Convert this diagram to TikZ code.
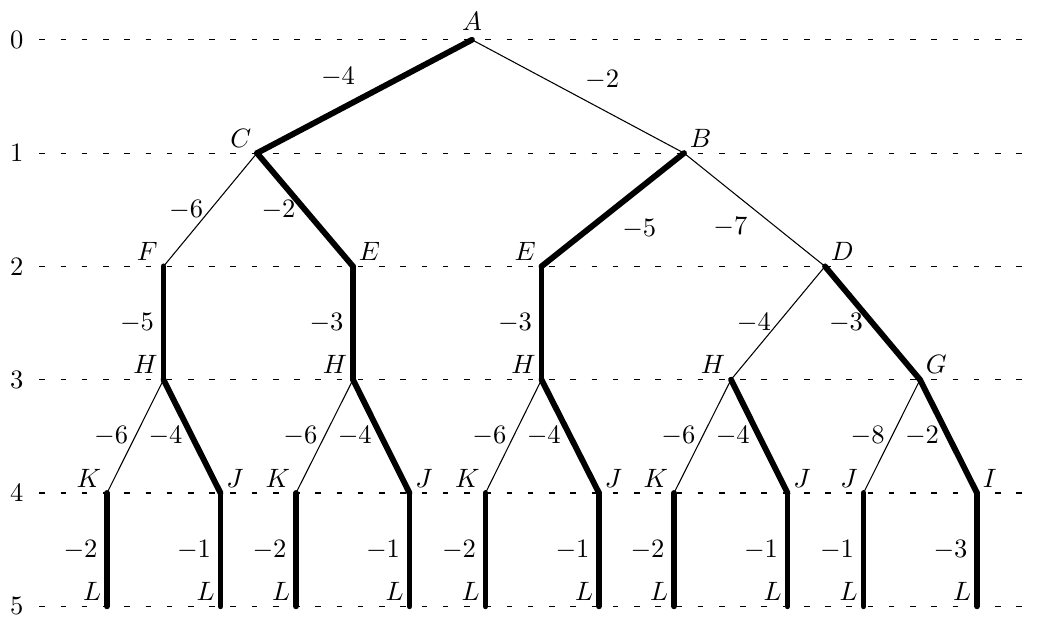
\documentclass[tikz,border=0pt]{standalone}
\begin{document}
\begin{tikzpicture}[x=0.37665pt, y=-0.37665pt,
  lvl/.style={dash pattern=on 2.1pt off 5.9pt, line width=0.4pt},
  thinedge/.style={line width=0.4pt},
  heavy/.style={line width=2.2pt, line cap=round},
  every node/.style={inner sep=2.5pt},
  nm/.style={inner sep=2pt}]
\useasboundingbox (0,0) rectangle (1038,617);
% levels
\foreach \k in {0,...,5} {
  \coordinate (s\k) at (39.3, 39.8+113.3*\k);
  \coordinate (e\k) at (1027, 39.8+113.3*\k);
  \draw[lvl] (s\k) -- (e\k);
  \node (n\k) at (16.7, 39.8+113.3*\k) {\k};
}
% tree nodes
\coordinate (A) at (472, 39.8);
\coordinate (C) at (257, 153.1);
\coordinate (B) at (684, 153.1);
\coordinate (F) at (163.5, 266.4);
\coordinate (E1) at (353, 266.4);
\coordinate (E2) at (541.5, 266.4);
\coordinate (D) at (825, 266.4);
\coordinate (H1) at (163.5, 379.7);
\coordinate (H2) at (353, 379.7);
\coordinate (H3) at (541.5, 379.7);
\coordinate (H4) at (731, 379.7);
\coordinate (G) at (920, 379.7);
\coordinate (K1) at (107, 493);
\coordinate (J1) at (220.5, 493);
\coordinate (K2) at (296, 493);
\coordinate (J2) at (409.5, 493);
\coordinate (K3) at (485.5, 493);
\coordinate (J3) at (599, 493);
\coordinate (K4) at (674, 493);
\coordinate (J4) at (787.5, 493);
\coordinate (J5) at (863.5, 493);
\coordinate (I) at (977, 493);
\foreach \n/\x in {1/107,2/220.5,3/296,4/409.5,5/485.5,6/599,7/674,8/787.5,9/863.5,10/977}
  \coordinate (L\n) at (\x, 606.3);
% edges
\draw[heavy] (A) -- node[above left] {$-4$} (C);
\draw[thinedge] (A) -- node[above right] {$-2$} (B);
\draw[thinedge] (C) -- node[left] {$-6$} (F);
\draw[heavy] (C) -- node[left] {$-2$} (E1);
\draw[heavy] (B) -- node[below right] {$-5$} (E2);
\draw[thinedge] (B) -- node[below left] {$-7$} (D);
\draw[heavy] (F) -- node[left] {$-5$} (H1);
\draw[heavy] (E1) -- node[left] {$-3$} (H2);
\draw[heavy] (E2) -- node[left] {$-3$} (H3);
\draw[thinedge] (D) -- node[left] {$-4$} (H4);
\draw[heavy] (D) -- node[left] {$-3$} (G);
\draw[thinedge] (H1) -- node[left] {$-6$} (K1);
\draw[heavy] (H1) -- node[left] {$-4$} (J1);
\draw[thinedge] (H2) -- node[left] {$-6$} (K2);
\draw[heavy] (H2) -- node[left] {$-4$} (J2);
\draw[thinedge] (H3) -- node[left] {$-6$} (K3);
\draw[heavy] (H3) -- node[left] {$-4$} (J3);
\draw[thinedge] (H4) -- node[left] {$-6$} (K4);
\draw[heavy] (H4) -- node[left] {$-4$} (J4);
\draw[thinedge] (G) -- node[left] {$-8$} (J5);
\draw[heavy] (G) -- node[left] {$-2$} (I);
\draw[heavy] (K1) -- node[left] {$-2$} (L1);
\draw[heavy] (J1) -- node[left] {$-1$} (L2);
\draw[heavy] (K2) -- node[left] {$-2$} (L3);
\draw[heavy] (J2) -- node[left] {$-1$} (L4);
\draw[heavy] (K3) -- node[left] {$-2$} (L5);
\draw[heavy] (J3) -- node[left] {$-1$} (L6);
\draw[heavy] (K4) -- node[left] {$-2$} (L7);
\draw[heavy] (J4) -- node[left] {$-1$} (L8);
\draw[heavy] (J5) -- node[left] {$-1$} (L9);
\draw[heavy] (I) -- node[left] {$-3$} (L10);
% node names
\node[above, inner sep=3.33pt] (tA) at (A) {$A$};
\node[nm, above left] (tC) at (C) {$C$};
\node[nm, above right] (tB) at (B) {$B$};
\node[nm, above left] (tF) at (F) {$F$};
\node[nm, above right] (tE1) at (E1) {$E$};
\node[nm, above left] (tE2) at (E2) {$E$};
\node[nm, above right] (tD) at (D) {$D$};
\node[nm, above left] (tH1) at (H1) {$H$};
\node[nm, above left] (tH2) at (H2) {$H$};
\node[nm, above left] (tH3) at (H3) {$H$};
\node[nm, above left] (tH4) at (H4) {$H$};
\node[nm, above right] (tG) at (G) {$G$};
\node[nm, above left] (tK1) at (K1) {$K$};
\node[nm, above right] (tJ1) at (J1) {$J$};
\node[nm, above left] (tK2) at (K2) {$K$};
\node[nm, above right] (tJ2) at (J2) {$J$};
\node[nm, above left] (tK3) at (K3) {$K$};
\node[nm, above right] (tJ3) at (J3) {$J$};
\node[nm, above left] (tK4) at (K4) {$K$};
\node[nm, above right] (tJ4) at (J4) {$J$};
\node[nm, above left] (tJ5) at (J5) {$J$};
\node[nm, above right] (tI) at (I) {$I$};
\foreach \n in {1,...,10}
  \node[nm, above left] (tL\n) at (L\n) {$L$};
\end{tikzpicture}
\end{document}
